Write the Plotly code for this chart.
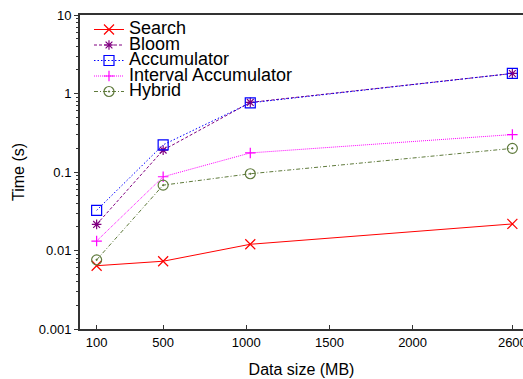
import plotly.graph_objects as go

sizes_mb = [100, 500, 1024, 2600]
series_names = ["Search", "Bloom", "Accumulator", "Interval Accumulator", "Hybrid"]
search_s = [0.0064, 0.0073, 0.0120, 0.0218]
bloom_s = [0.0215, 0.190, 0.77, 1.80]
accumulator_s = [0.0325, 0.222, 0.76, 1.80]
interval_s = [0.0132, 0.087, 0.175, 0.30]
hybrid_s = [0.0076, 0.068, 0.095, 0.200]

x_tickvals = [100, 500, 1000, 1500, 2000, 2600]
x_ticktext = ["100", "500", "1000", "1500", "2000", "2600"]
y_tickvals = [0.001, 0.01, 0.1, 1, 10]
y_ticktext = ["0.001", "0.01", "0.1", "1", "10"]

styles = [
    dict(color="#ff0000", dash="solid", symbol="x-thin-open", size=10),
    dict(color="#800080", dash="3px,2px", symbol="asterisk-open", size=8),
    dict(color="#0000ff", dash="1.5px,2px", symbol="square-open", size=10),
    dict(color="#ff00ff", dash="1px,1px", symbol="cross-thin-open", size=7.5),
    dict(color="#5f7a3c", dash="4px,2px,1px,2px", symbol="circle-open-dot", size=10),
]
values = [search_s, bloom_s, accumulator_s, interval_s, hybrid_s]

# one single-entry legend per series, so entries can sit closer together
plot_top, plot_bottom = 15, 329
entry_centers_px = [27, 42.5, 58, 73.5, 89]
legend_ids = ["legend", "legend2", "legend3", "legend4", "legend5"]

fig = go.Figure()
for name, vals, st, lid in zip(series_names, values, styles, legend_ids):
    fig.add_trace(go.Scatter(
        x=sizes_mb, y=vals, mode="lines+markers",
        name='<span style="font-size:18px">' + name + "</span>",
        legend=lid,
        line=dict(color=st["color"], dash=st["dash"], width=1),
        marker=dict(symbol=st["symbol"], size=st["size"], color=st["color"],
                    line=dict(color=st["color"], width=1.2)),
    ))

legend_layouts = {}
for lid, c in zip(legend_ids, entry_centers_px):
    legend_layouts[lid] = dict(
        x=0.0203, y=(plot_bottom - (c - 12)) / (plot_bottom - plot_top),
        xanchor="left", yanchor="top",
        bgcolor="rgba(0,0,0,0)", borderwidth=0, font=dict(size=12))

fig.update_layout(
    width=523, height=379,
    margin=dict(l=80, r=0, t=15, b=50),
    paper_bgcolor="white", plot_bgcolor="white",
    font=dict(family="Liberation Sans, Arial, sans-serif", color="black", size=13),
    showlegend=True,
    xaxis=dict(range=[0, 2664], tickvals=x_tickvals, ticktext=x_ticktext,
               showline=True, linecolor="#333333", linewidth=2, mirror=True,
               ticks="inside", ticklen=4, tickcolor="#333333", tickwidth=1,
               ticklabeloverflow="allow", automargin=False,
               showgrid=False, zeroline=False,
               title=dict(text="Data size (MB)", font=dict(size=16), standoff=15)),
    yaxis=dict(type="log", range=[-3, 1], tickvals=y_tickvals, ticktext=y_ticktext,
               showline=True, linecolor="#333333", linewidth=2, mirror=False,
               ticks="outside", ticklen=4, tickcolor="#333333", tickwidth=1,
               minor=dict(ticks="outside", ticklen=2, tickcolor="#333333", dtick="D1", showgrid=False),
               showgrid=False, zeroline=False, automargin=False,
               title=dict(text="Time (s)", font=dict(size=16), standoff=10)),
    **legend_layouts,
)

fig.write_html("out.html", config={"displayModeBar": False},
               post_script="document.body.style.margin='0';document.body.style.overflow='hidden';")
